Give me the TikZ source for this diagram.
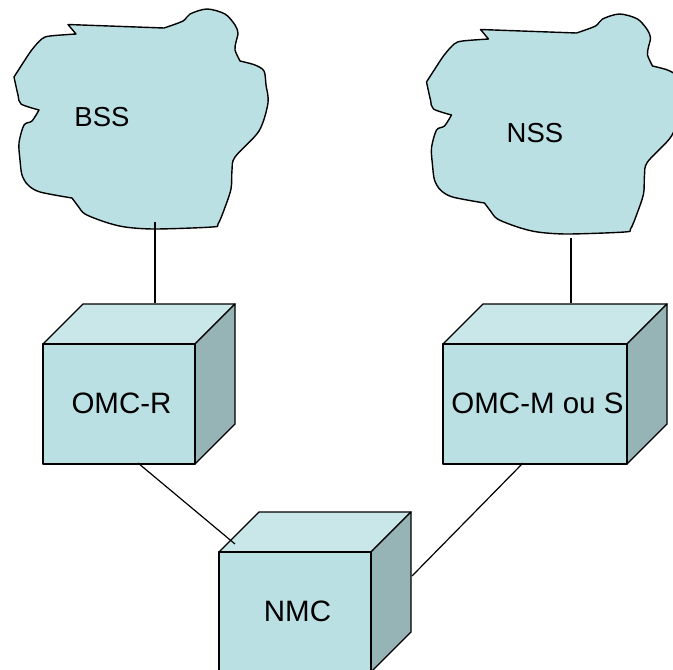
\documentclass[tikz,border=0pt]{standalone}
\usepackage{fontspec}
\setmainfont{Liberation Sans}
\definecolor{facefront}{HTML}{BBE0E3}
\definecolor{facetop}{HTML}{C9E6E9}
\definecolor{faceside}{HTML}{96B3B6}
\tikzset{
    outline/.style={draw=black, line width=1.4pt, line join=round},
    label/.style={font=\fontsize{27.5}{32}\selectfont, inner sep=0pt},
    boxlabel/.style={font=\fontsize{29.5}{34}\selectfont},
    front/.style={outline, fill=facefront, inner sep=0pt, outer sep=0pt, minimum height=120pt, boxlabel},
    link/.style={draw=black, line width=1.2pt}
}
% cloud outline, drawn around the origin of the current scope
\newcommand{\cloudshape}{
    \draw[outline, fill=facefront]
        plot[smooth, tension=0.5] coordinates {(14,77) (21.7,65) (31.7,50) (41.7,39) (50,36) (76,34)}
        -- (68,24.5) -- (164,28)
        -- plot[smooth, tension=0.5] coordinates {(164,28) (183,21) (190,14) (207,9) (225,14) (235,25) (238,33) (236,42) (235,50) (240,61)}
        -- plot[smooth, tension=0.5] coordinates {(240,61) (255,65) (264,71) (266,85) (268,103) (259,131) (235,157) (232,170) (231,189) (224,210) (218,224) (212,227) (155,229) (125,227) (105,222) (85,214) (78,206) (72,198)}
        -- plot[smooth, tension=0.5] coordinates {(72,198) (40,192) (28,185) (22,175) (20,160) (19,143) (24,125) (32,121) (39,110)}
        -- plot[smooth, tension=0.5] coordinates {(39,110) (21,104) (18,95) (14,77)}
        -- cycle;
}
\begin{document}
\begin{tikzpicture}[x=1pt, y=-1pt]
    \useasboundingbox (0,0) rectangle (673,670);
    \clip (0,0) rectangle (673,670);

    \begin{scope}
        \cloudshape
    \end{scope}
    \begin{scope}[shift={(412.5,5)}]
        \cloudshape
    \end{scope}
    \node[label] (bss) at (102,117) {BSS};
    \node[label] (nss) at (535,133) {NSS};

    % the three boxes
    \foreach \cx/\cy/\wd in {119/404/152, 535/404/184, 295/612/152} {
        \draw[outline, fill=facetop] (\cx-\wd/2,\cy-60) -- ++(40,-40) -- ++(\wd,0) -- ++(-40,40) -- cycle;
        \draw[outline, fill=faceside] (\cx+\wd/2,\cy-60) -- ++(40,-40) -- ++(0,120) -- ++(-40,40) -- cycle;
    }
    \node[front, minimum width=152pt] (omcr) at (119,404) {\hspace{5pt}\raisebox{2pt}{OMC-R}};
    \node[front, minimum width=184pt] (omcm) at (535,404) {\hspace{5pt}\raisebox{2pt}{OMC-M ou S}};
    \node[front, minimum width=152pt] (nmc) at (295,612) {\hspace{5pt}\raisebox{2pt}{NMC}};

    \coordinate (bssfoot) at (155,222);
    \coordinate (nssfoot) at (571,238);
    \coordinate (omcrtop) at (155,303);
    \coordinate (omcmtop) at (571,303);
    \coordinate (omcrfoot) at (138,463);
    \coordinate (omcmfoot) at (523,463);
    \coordinate (nmctop) at (235,544);
    \coordinate (nmcside) at (412,576);

    \path[link]
    (bssfoot) edge (omcrtop)
    (nssfoot) edge (omcmtop)
    (omcrfoot) edge (nmctop)
    (omcmfoot) edge (nmcside);
\end{tikzpicture}
\end{document}
